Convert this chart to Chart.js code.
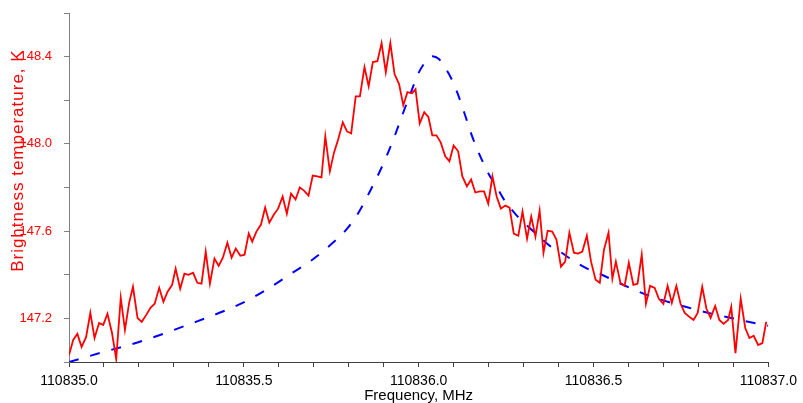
<!DOCTYPE html>
<html>
<head>
<meta charset="utf-8">
<script src="https://cdn.jsdelivr.net/npm/chart.js@4.4.1/dist/chart.umd.min.js"></script>
<style>
    html, body { margin: 0; padding: 0; background: #ffffff; }
    #wrap { width: 803px; height: 403px; position: relative; }
</style>
</head>
<body>
<div id="wrap"><canvas id="spectrum"></canvas></div>
<script>
// Measured spectrum (red), MHz / K
const freqMeasured = [
    110835.000, 110835.012, 110835.024, 110835.036, 110835.049, 110835.061, 110835.073, 110835.086, 110835.098, 110835.110,
    110835.123, 110835.135, 110835.148, 110835.160, 110835.172, 110835.183, 110835.196, 110835.208, 110835.221, 110835.233,
    110835.245, 110835.258, 110835.270, 110835.282, 110835.295, 110835.305, 110835.318, 110835.330, 110835.342, 110835.355,
    110835.367, 110835.379, 110835.391, 110835.403, 110835.416, 110835.428, 110835.440, 110835.453, 110835.465, 110835.477,
    110835.490, 110835.502, 110835.514, 110835.524, 110835.536, 110835.549, 110835.561, 110835.573, 110835.586, 110835.598,
    110835.611, 110835.623, 110835.635, 110835.648, 110835.660, 110835.672, 110835.685, 110835.697, 110835.710, 110835.722,
    110835.733, 110835.746, 110835.758, 110835.770, 110835.783, 110835.795, 110835.807, 110835.820, 110835.832, 110835.845,
    110835.857, 110835.869, 110835.882, 110835.894, 110835.906, 110835.919, 110835.931, 110835.944, 110835.956, 110835.968,
    110835.981, 110835.991, 110836.003, 110836.016, 110836.028, 110836.039, 110836.051, 110836.063, 110836.076, 110836.088,
    110836.100, 110836.113, 110836.125, 110836.138, 110836.150, 110836.162, 110836.175, 110836.187, 110836.199, 110836.211,
    110836.223, 110836.235, 110836.248, 110836.260, 110836.272, 110836.285, 110836.297, 110836.310, 110836.322, 110836.334,
    110836.346, 110836.357, 110836.369, 110836.382, 110836.394, 110836.407, 110836.419, 110836.431, 110836.444, 110836.456,
    110836.468, 110836.481, 110836.493, 110836.506, 110836.518, 110836.530, 110836.543, 110836.554, 110836.564, 110836.577,
    110836.589, 110836.601, 110836.614, 110836.626, 110836.638, 110836.650, 110836.662, 110836.675, 110836.687, 110836.700,
    110836.712, 110836.724, 110836.737, 110836.749, 110836.761, 110836.774, 110836.786, 110836.798, 110836.811, 110836.823,
    110836.835, 110836.848, 110836.860, 110836.872, 110836.885, 110836.894, 110836.906, 110836.921, 110836.934, 110836.946,
    110836.958, 110836.971, 110836.983, 110836.994
];
const tempMeasured = [
    147.032, 147.101, 147.129, 147.069, 147.115, 147.225, 147.110, 147.179, 147.170, 147.221,
    147.133, 147.014, 147.294, 147.147, 147.271, 147.345, 147.202, 147.184, 147.216, 147.248,
    147.267, 147.340, 147.276, 147.322, 147.354, 147.428, 147.336, 147.405, 147.400, 147.409,
    147.363, 147.359, 147.506, 147.359, 147.474, 147.441, 147.478, 147.547, 147.478, 147.520,
    147.487, 147.492, 147.589, 147.552, 147.598, 147.630, 147.708, 147.639, 147.676, 147.703,
    147.759, 147.680, 147.772, 147.745, 147.800, 147.786, 147.763, 147.855, 147.851, 147.846,
    148.034, 147.874, 147.961, 148.021, 148.099, 148.057, 148.048, 148.218, 148.218, 148.352,
    148.264, 148.375, 148.379, 148.462, 148.329, 148.462, 148.320, 148.274, 148.177, 148.237,
    148.232, 148.251, 148.094, 148.145, 148.122, 148.039, 148.039, 148.007, 147.943, 147.920,
    147.993, 147.966, 147.851, 147.805, 147.837, 147.777, 147.782, 147.782, 147.726, 147.851,
    147.759, 147.703, 147.717, 147.708, 147.589, 147.579, 147.690, 147.566, 147.667, 147.575,
    147.694, 147.501, 147.602, 147.598, 147.561, 147.437, 147.460, 147.593, 147.501, 147.497,
    147.506, 147.579, 147.460, 147.377, 147.363, 147.515, 147.593, 147.382, 147.460, 147.363,
    147.349, 147.455, 147.354, 147.359, 147.492, 147.267, 147.349, 147.340, 147.290, 147.267,
    147.349, 147.271, 147.349, 147.267, 147.225, 147.207, 147.193, 147.225, 147.345, 147.244,
    147.202, 147.257, 147.193, 147.175, 147.193, 147.253, 147.041, 147.290, 147.156, 147.110,
    147.120, 147.078, 147.087, 147.184
];

// Model line (blue dashed)
const freqModel = [
    110835.000, 110835.088, 110835.211, 110835.354, 110835.451, 110835.514, 110835.582, 110835.639, 110835.696, 110835.745,
    110835.793, 110835.830, 110835.859, 110835.902, 110835.930, 110835.953, 110835.979, 110836.001, 110836.024, 110836.039,
    110836.058, 110836.073, 110836.093, 110836.110, 110836.130, 110836.153, 110836.175, 110836.201, 110836.221, 110836.244,
    110836.278, 110836.301, 110836.335, 110836.378, 110836.404, 110836.438, 110836.495, 110836.524, 110836.572, 110836.638,
    110836.695, 110836.763, 110836.829, 110836.894, 110836.971, 110837.000
];
const tempModel = [
    147.000, 147.041, 147.097, 147.179, 147.239, 147.285, 147.349, 147.409, 147.469, 147.533,
    147.607, 147.690, 147.777, 147.920, 148.030, 148.131, 148.241, 148.329, 148.384, 148.402,
    148.389, 148.356, 148.301, 148.237, 148.145, 148.034, 147.947, 147.860, 147.809, 147.745,
    147.676, 147.639, 147.589, 147.529, 147.506, 147.469, 147.418, 147.400, 147.363, 147.317,
    147.285, 147.253, 147.225, 147.202, 147.175, 147.166
];

const xMin = 110835.0, xMax = 110837.0;
const yMin = 147.0, yMax = 148.6;
const xTitle = 'Frequency, MHz';
const yTitle = 'Brightness temperature, K';

const FONT = 'Arial, "Liberation Sans", sans-serif';

// y title sits above the middle of the axis in the original, so draw it by hand
const yTitlePlugin = {
    id: 'yTitle',
    afterDraw(chart) {
        const ctx = chart.ctx;
        const area = chart.chartArea;
        ctx.save();
        ctx.translate(18, area.top + (area.bottom - area.top) * 0.423);
        ctx.rotate(-Math.PI / 2);
        ctx.fillStyle = '#ff0000';
        ctx.font = '17px ' + FONT;
        ctx.letterSpacing = '1px';
        ctx.textAlign = 'center';
        ctx.textBaseline = 'middle';
        ctx.fillText(yTitle, 0, 0);
        ctx.restore();
    }
};

const toPoints = (xs, ys) => xs.map((x, i) => ({ x: x, y: ys[i] }));

new Chart(document.getElementById('spectrum').getContext('2d'), {
    type: 'line',
    data: {
        datasets: [{
            label: 'Measured',
            data: toPoints(freqMeasured, tempMeasured),
            borderColor: '#ff0000',
            borderWidth: 1.8,
            pointRadius: 0,
            tension: 0,
            fill: false
        }, {
            label: 'Model',
            data: toPoints(freqModel, tempModel),
            borderColor: '#0000ff',
            borderWidth: 2,
            borderDash: [10, 12],
            pointRadius: 0,
            cubicInterpolationMode: 'monotone',
            fill: false
        }]
    },
    options: {
        responsive: true,
        maintainAspectRatio: false,
        animation: false,
        layout: { padding: { top: 13, right: 33, left: 0, bottom: 0 } },
        plugins: {
            legend: { display: false },
            tooltip: { enabled: false }
        },
        scales: {
            x: {
                type: 'linear',
                min: xMin,
                max: xMax,
                afterFit: (scale) => { scale.height = 41; },
                border: { display: true, color: '#404040', width: 1 },
                grid: { drawOnChartArea: false, drawTicks: true, tickLength: 5, color: '#404040' },
                ticks: {
                    stepSize: 0.1,
                    autoSkip: false,
                    maxRotation: 0,
                    padding: 6,
                    color: '#000000',
                    font: { family: FONT, size: 14 },
                    callback: (v) => (Math.round(v * 10) % 5 === 0 ? v.toFixed(1) : '')
                },
                title: {
                    display: true,
                    text: xTitle,
                    color: '#000000',
                    font: { family: FONT, size: 15 },
                    padding: { top: 0, bottom: -2 }
                }
            },
            y: {
                type: 'linear',
                min: yMin,
                max: yMax,
                afterFit: (scale) => {
                    scale.width = 69;
                    scale.paddingTop = 0;
                    scale.paddingBottom = 0;
                },
                border: { display: true, color: '#808080', width: 1 },
                grid: { drawOnChartArea: false, drawTicks: true, tickLength: 5, color: '#808080' },
                ticks: {
                    stepSize: 0.2,
                    padding: 12,
                    color: '#ff0000',
                    font: { family: FONT, size: 13 },
                    callback: (v) => (Math.round(v * 10) % 4 === 0 ? v.toFixed(1) : '')
                }
            }
        }
    },
    plugins: [yTitlePlugin]
});
</script>
</body>
</html>
